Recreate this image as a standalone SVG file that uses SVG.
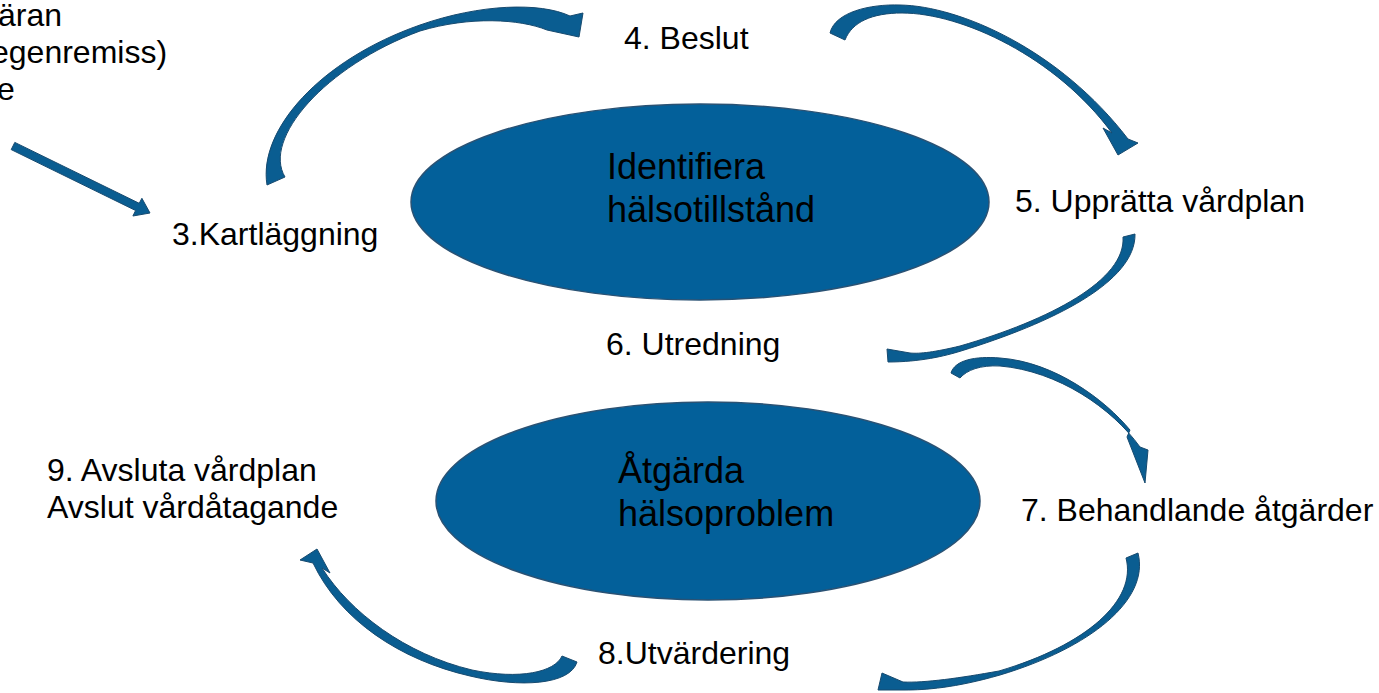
<svg xmlns="http://www.w3.org/2000/svg" width="1379" height="693" viewBox="0 0 1379 693">
<style>
.lbl{font-family:"Liberation Sans",Arial,sans-serif;font-size:32px;fill:#000}
.big{font-family:"Liberation Sans",Arial,sans-serif;font-size:36px;fill:#000}
.ell{fill:#03609A;stroke:#2A5274;stroke-width:1.5}
.arr{fill:#0A5D91;stroke:#174A6F;stroke-width:1;stroke-linejoin:miter}
</style>
<rect width="1379" height="693" fill="#fff"/>
<g id="connectors">
<polygon class="arr" points="11.2,149.6 135.6,210.5 132.9,216 150,213 141.9,198.3 139.2,203.3 14.8,142.4"/>
<path class="arr" d="M267,185 C258,130 320,60 420,25 C480,4 540,2 570,16 L583,13 L579,37 L547,30 C520,19 470,16 420,31 C325,66 262,139 285,177 Z"/>
<path class="arr" d="M830,33 C835,12 870,4 900,5 C960,6 1060,50 1128,139 L1138,143 L1118,155 L1103,128 L1112,133 C1056,57 962,13 902,13 C872,13 852,22 845,40 Z"/>
<path class="arr" d="M1123,237 C1126,280 1050,320 960,346 C935,352 920,354 910,353 L887,349 L888,362 C920,362 945,356 961,351 C1052,323 1136,282 1135,234 Z"/>
<path class="arr" d="M951,373 C955,360 975,356 1000,358 C1055,362 1105,400 1130,430 L1127,437 L1145,483 L1148,450 L1140,447 C1112,408 1058,371 1000,366 C980,365 967,370 960,378 Z"/>
<path class="arr" d="M1126,558 L1138,553 C1150,600 1090,648 1000,675 C955,688 925,690 905,690 L878,690 L882,673 L903,682 C925,683 960,678 999,671 C1087,645 1137,600 1126,558 Z"/>
<path class="arr" d="M577,662 C570,685 520,688 470,676 C400,660 340,620 313,563 L300,560 L317,549 L330,573 L322,568 C350,612 405,654 472,670 C520,680 555,672 562,656 Z"/>
</g>
<g id="node-identifiera">
<ellipse class="ell" cx="700" cy="202" rx="289" ry="98"/>
<text class="big" x="607" y="179">Identifiera</text>
<text class="big" x="607" y="222">hälsotillstånd</text>
</g>
<g id="node-atgarda">
<ellipse class="ell" cx="708" cy="501" rx="272" ry="99"/>
<text class="big" x="618" y="483">Åtgärda</text>
<text class="big" x="618" y="526">hälsoproblem</text>
</g>
<g id="node-start">
<text class="lbl" x="-2" y="26">äran</text>
<text class="lbl" x="-9" y="63">egenremiss)</text>
<text class="lbl" x="-3" y="100">e</text>
</g>
<g id="node-3"><text class="lbl" x="172" y="245">3.Kartläggning</text></g>
<g id="node-4"><text class="lbl" x="624" y="49">4. Beslut</text></g>
<g id="node-5"><text class="lbl" x="1015" y="212">5. Upprätta vårdplan</text></g>
<g id="node-6"><text class="lbl" x="606" y="355">6. Utredning</text></g>
<g id="node-7"><text class="lbl" x="1021" y="521">7. Behandlande åtgärder</text></g>
<g id="node-8"><text class="lbl" x="598" y="664">8.Utvärdering</text></g>
<g id="node-9">
<text class="lbl" x="47" y="481">9. Avsluta vårdplan</text>
<text class="lbl" x="47" y="518">Avslut vårdåtagande</text>
</g>
</svg>
